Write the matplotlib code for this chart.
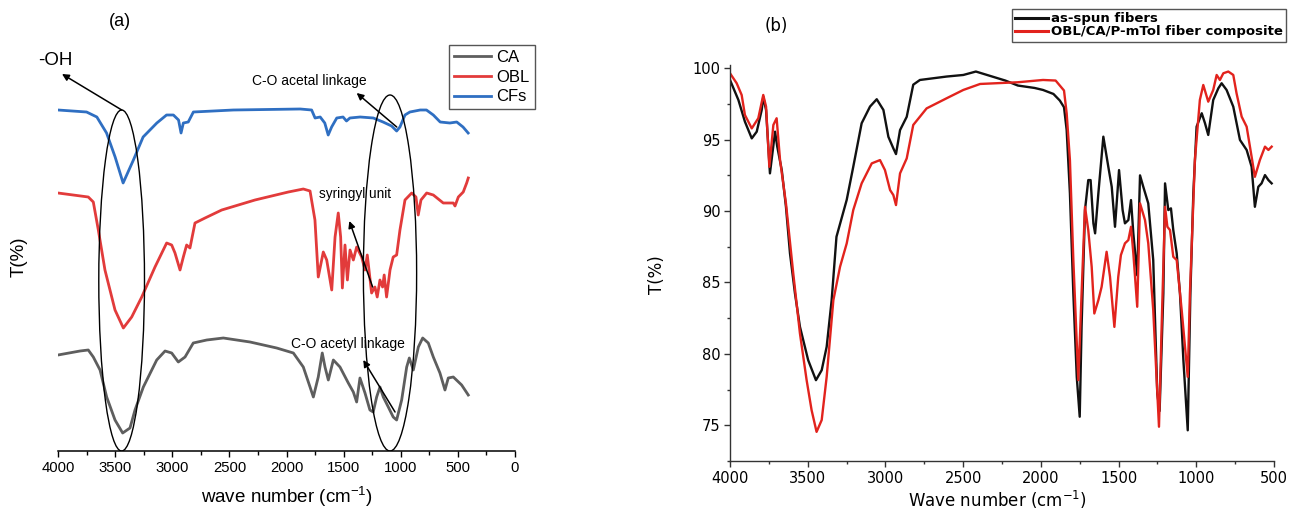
import matplotlib
matplotlib.use('Agg')
import matplotlib.pyplot as plt
from matplotlib.patches import Ellipse
from matplotlib.ticker import MultipleLocator

plt.rcParams['font.family'] = ['Liberation Sans', 'DejaVu Sans']
plt.rcParams['mathtext.default'] = 'regular'

# ---------------- Panel (a) data (offset transmittance, arbitrary units) ----------------
ca_wn = [4000, 3807, 3735, 3691, 3632, 3574, 3501, 3434, 3370, 3326, 3253, 3136, 3063, 3005,
         2947, 2888, 2816, 2698, 2553, 2319, 2086, 1940, 1853, 1794, 1765, 1722, 1687, 1663,
         1634, 1590, 1532, 1459, 1415, 1386, 1357, 1313, 1270, 1241, 1211, 1182, 1153, 1109,
         1066, 1036, 992, 948, 925, 890, 846, 808, 759, 715, 657, 613, 584, 540, 467, 409]
ca_t = [96, 100, 101, 94, 81, 54, 31, 18, 23, 41, 64, 91, 100, 98,
        89, 94, 108, 111, 113, 109, 103, 98, 84, 64, 54, 74, 98, 84,
        71, 91, 84, 68, 59, 49, 73, 58, 41, 39, 54, 64, 54, 44,
        34, 31, 51, 84, 93, 81, 104, 113, 108, 94, 78, 61, 73, 74, 66, 56]

obl_wn = [4000, 3735, 3691, 3647, 3589, 3501, 3428, 3355, 3267, 3151, 3049, 3005, 2976, 2932,
          2903, 2874, 2845, 2801, 2713, 2567, 2276, 1984, 1853, 1794, 1751, 1722, 1678, 1648,
          1604, 1575, 1547, 1526, 1511, 1488, 1467, 1444, 1415, 1386, 1342, 1313, 1293, 1255,
          1226, 1206, 1182, 1159, 1145, 1124, 1094, 1066, 1036, 1007, 963, 904, 867, 847,
          823, 773, 715, 628, 540, 525, 496, 453, 423, 409]
obl_t = [258, 254, 249, 221, 181, 141, 123, 134, 154, 184, 208, 206, 198, 181,
         194, 206, 203, 228, 233, 241, 251, 259, 262, 260, 231, 174, 199, 191,
         161, 214, 238, 214, 163, 206, 171, 201, 191, 204, 194, 181, 196, 158,
         164, 154, 171, 164, 176, 154, 181, 194, 196, 221, 251, 258, 254, 236,
         251, 258, 256, 248, 248, 245, 254, 259, 268, 273]

cfs_wn = [4000, 3750, 3660, 3575, 3500, 3430, 3340, 3255, 3135, 3050, 2990, 2945, 2923, 2903,
          2860, 2815, 2465, 1880, 1780, 1750, 1705, 1665, 1635, 1605, 1560, 1505, 1475, 1445,
          1355, 1240, 1155, 1080, 1036, 1007, 963, 920, 830, 775, 715, 655, 570, 510, 455, 410]
cfs_t = [341, 339, 334, 318, 294, 268, 291, 314, 328, 336, 336, 331, 318, 328,
         329, 339, 341, 342, 341, 333, 334, 328, 316, 324, 333, 334, 330, 333,
         334, 333, 329, 325, 320, 324, 336, 339, 341, 341, 336, 329, 328, 329, 324, 318]

a_labels = ['CA', 'OBL', 'CFs']
a_colors = ['#5e5e5e', '#e23b3b', '#2f6fc2']
a_ticks = [4000, 3500, 3000, 2500, 2000, 1500, 1000, 500, 0]

# ---------------- Panel (b) data (T %) ----------------
spun_wn = [4000, 3946, 3904, 3860, 3828, 3796, 3786, 3768, 3743, 3710,
           3696, 3667, 3640, 3614, 3582, 3550, 3497, 3447, 3410, 3378,
           3346, 3315, 3249, 3207, 3153, 3099, 3056, 3013, 2981, 2949,
           2932, 2906, 2863, 2821, 2778, 2692, 2606, 2499, 2418, 2229,
           2148, 2040, 1986, 1919, 1878, 1851, 1834, 1813, 1791, 1769,
           1750, 1738, 1716, 1695, 1680, 1662, 1651, 1630, 1598, 1566,
           1544, 1523, 1497, 1474, 1459, 1437, 1420, 1405, 1380, 1362,
           1341, 1309, 1277, 1251, 1236, 1212, 1201, 1180, 1163, 1148,
           1126, 1105, 1083, 1055, 1038, 1019, 998, 965, 944, 923,
           891, 858, 837, 805, 762, 719, 676, 644, 623, 601,
           580, 558, 536, 515]
spun_t = [99.18, 97.78, 96.26, 95.09, 95.56, 97.08, 98.01, 97.08, 92.64, 95.56,
          94.51, 92.87, 90.3, 87.03, 84.23, 81.9, 79.56, 78.16, 78.86, 80.5,
          83.76, 88.2, 90.79, 93.1, 96.15, 97.32, 97.83, 97.08, 95.2, 94.39,
          93.99, 95.67, 96.6, 98.85, 99.18, 99.3, 99.42, 99.53, 99.77, 99.14,
          98.79, 98.62, 98.48, 98.2, 97.74, 97.27, 95.68, 91.24, 84.23, 78.39,
          75.6, 81.89, 90.07, 92.17, 92.17, 89.14, 88.44, 91.24, 95.21, 93.1,
          91.7, 88.9, 92.87, 90.07, 89.14, 89.37, 90.77, 88.44, 85.5, 92.5,
          91.7, 90.54, 86.57, 77.23, 76.0, 84.23, 91.94, 90.07, 90.19, 88.67,
          87.04, 84.23, 79.56, 74.65, 84.23, 91.24, 95.91, 96.85, 96.15, 95.33,
          97.78, 98.6, 98.95, 98.48, 97.31, 94.98, 94.28, 93.1, 90.3, 91.7,
          91.94, 92.52, 92.17, 91.94]

comp_wn = [4000, 3957, 3925, 3904, 3860, 3818, 3786, 3768, 3747, 3721,
           3700, 3678, 3640, 3593, 3550, 3507, 3475, 3443, 3410, 3378,
           3335, 3292, 3249, 3207, 3153, 3088, 3035, 3003, 2970, 2949,
           2932, 2906, 2863, 2821, 2735, 2606, 2499, 2391, 2148, 1986,
           1905, 1878, 1851, 1834, 1813, 1791, 1759, 1738, 1716, 1695,
           1673, 1656, 1630, 1609, 1577, 1555, 1527, 1502, 1485, 1459,
           1437, 1420, 1405, 1380, 1362, 1330, 1309, 1277, 1240, 1223,
           1201, 1186, 1169, 1148, 1126, 1094, 1055, 1041, 1009, 977,
           955, 923, 891, 869, 848, 826, 794, 762, 741, 708,
           676, 644, 623, 591, 558, 536, 515]
comp_t = [99.65, 98.95, 98.13, 96.73, 95.79, 96.5, 98.13, 97.31, 93.1, 96.03,
          96.5, 93.57, 90.54, 85.63, 81.43, 78.16, 76.06, 74.54, 75.37, 78.4,
          83.76, 86.1, 87.74, 90.07, 91.94, 93.34, 93.57, 92.87, 91.47, 91.12,
          90.42, 92.64, 93.69, 96.03, 97.19, 97.9, 98.48, 98.9, 99.02, 99.18,
          99.14, 98.79, 98.44, 96.85, 93.57, 86.57, 78.16, 84.23, 90.3, 88.67,
          86.1, 82.83, 83.76, 84.7, 87.15, 85.4, 81.89, 85.4, 86.92, 87.74,
          87.97, 88.9, 87.04, 83.3, 90.54, 89.37, 87.74, 83.07, 74.9, 81.89,
          90.3, 88.9, 88.67, 86.8, 86.57, 83.07, 78.39, 84.23, 93.57, 97.78,
          98.83, 97.66, 98.48, 99.53, 99.18, 99.65, 99.77, 99.53, 98.25, 96.61,
          95.91, 93.8, 92.4, 93.57, 94.51, 94.28, 94.51]

b_labels = ['as-spun fibers', 'OBL/CA/P-mTol fiber composite']
b_colors = ['#111111', '#e2231d']
b_xticks = [4000, 3500, 3000, 2500, 2000, 1500, 1000, 500]
b_yticks = [75, 80, 85, 90, 95, 100]

W, H = 1295, 520
fig = plt.figure(figsize=(W / 100, H / 100), dpi=100)

# ============================ Panel (a) ============================
axa = fig.add_axes([58 / W, (H - 451) / H, 457 / W, 411 / H])
axa.plot(ca_wn, ca_t, color=a_colors[0], lw=2.0, label=a_labels[0])
axa.plot(obl_wn, obl_t, color=a_colors[1], lw=2.0, label=a_labels[1])
axa.plot(cfs_wn, cfs_t, color=a_colors[2], lw=2.0, label=a_labels[2])
axa.set_xlim(4000, 0)
axa.set_ylim(0, 411)
for s in ['left', 'top', 'right']:
    axa.spines[s].set_visible(False)
axa.spines['bottom'].set_linewidth(1.1)
axa.set_yticks([])
axa.set_xticks(a_ticks, labels=[str(t) for t in a_ticks])
axa.xaxis.set_minor_locator(MultipleLocator(250))
axa.tick_params(axis='x', which='major', length=4.5, width=1.0, labelsize=10.7, pad=3)
axa.tick_params(axis='x', which='minor', length=3, width=1.0)

# ellipses marking bands
axa.add_patch(Ellipse((3443, 170.5), width=400, height=341, fill=False, ec='black', lw=1.0, zorder=5))
axa.add_patch(Ellipse((1094, 178), width=466, height=356, fill=False, ec='black', lw=1.0, zorder=5))

arrow = dict(arrowstyle='-|>', color='black', lw=1.1, mutation_scale=10, shrinkA=0, shrinkB=0)
axa.annotate('', xy=(3965, 377), xytext=(3442, 341), arrowprops=arrow, annotation_clip=False)
axa.text(4026, 391, '-OH', fontsize=13.5, ha='center', va='center', clip_on=False)
axa.annotate('', xy=(1386, 358), xytext=(1035, 324), arrowprops=arrow)
axa.text(1803, 370, 'C-O acetal linkage', fontsize=10, ha='center', va='center')
axa.annotate('', xy=(1450, 230), xytext=(1246, 164), arrowprops=arrow)
axa.text(1400, 257, 'syringyl unit', fontsize=9.8, ha='center', va='center')
axa.annotate('', xy=(1328, 91), xytext=(1050, 39), arrowprops=arrow)
axa.text(1462, 107, 'C-O acetyl linkage', fontsize=10, ha='center', va='center')

leg_a = axa.legend(loc='upper left', bbox_to_anchor=(449 / W, 1 - 45 / H), bbox_transform=fig.transFigure,
                   fontsize=12, frameon=True, fancybox=False, edgecolor='#555555', framealpha=1,
                   handlelength=2.2, handletextpad=0.35, labelspacing=0.28, borderpad=0.3, borderaxespad=0)
leg_a.get_frame().set_linewidth(1.0)

fig.text(19 / W, 1 - 257 / H, 'T(%)', rotation=90, ha='center', va='center', fontsize=13.5)
fig.text(287 / W, 1 - 497 / H, 'wave number (cm$^{-1}$)', ha='center', va='center', fontsize=13.5)
fig.text(120 / W, 1 - 22 / H, '(a)', ha='center', va='center', fontsize=13)

# ============================ Panel (b) ============================
axb = fig.add_axes([730 / W, (H - 461) / H, 544 / W, (461 - 65.4) / H])
axb.plot(spun_wn, spun_t, color=b_colors[0], lw=1.7, label=b_labels[0])
axb.plot(comp_wn, comp_t, color=b_colors[1], lw=1.7, label=b_labels[1])
axb.set_xlim(4000, 500)
axb.set_ylim(72.5, 100.2)
for s in ['top', 'right']:
    axb.spines[s].set_visible(False)
for s in ['left', 'bottom']:
    axb.spines[s].set_linewidth(1.0)
    axb.spines[s].set_color('#333333')
axb.set_xticks(b_xticks, labels=[str(t) for t in b_xticks], fontfamily='DejaVu Sans', fontsize=10.5)
axb.set_yticks(b_yticks, labels=[str(t) for t in b_yticks], fontfamily='DejaVu Sans', fontsize=10.5)
axb.xaxis.set_minor_locator(MultipleLocator(250))
axb.yaxis.set_minor_locator(MultipleLocator(2.5))
axb.tick_params(which='major', length=4, width=1.0, color='#333333', pad=3)
axb.tick_params(which='minor', length=2.5, width=1.0, color='#333333')

leg_b = axb.legend(loc='upper left', bbox_to_anchor=(1012 / W, 1 - 9 / H), bbox_transform=fig.transFigure,
                   prop={'family': 'DejaVu Sans', 'weight': 'bold', 'size': 9.5}, frameon=True, fancybox=False,
                   edgecolor='#555555', framealpha=1, handlelength=2.5, handletextpad=0.2,
                   labelspacing=0.0, borderpad=0.25, borderaxespad=0)
leg_b.get_frame().set_linewidth(1.0)
for ln in leg_b.get_lines():
    ln.set_linewidth(2.2)

fig.text(657 / W, 1 - 275 / H, 'T(%)', rotation=90, ha='center', va='center', fontsize=12,
         family='DejaVu Sans')
fig.text(997 / W, 1 - 500 / H, 'Wave number (cm$^{-1}$)', ha='center', va='center', fontsize=12,
         family='DejaVu Sans')
fig.text(776 / W, 1 - 26 / H, '(b)', ha='center', va='center', fontsize=12, family='DejaVu Sans')

fig.savefig('out.png', dpi=100)
